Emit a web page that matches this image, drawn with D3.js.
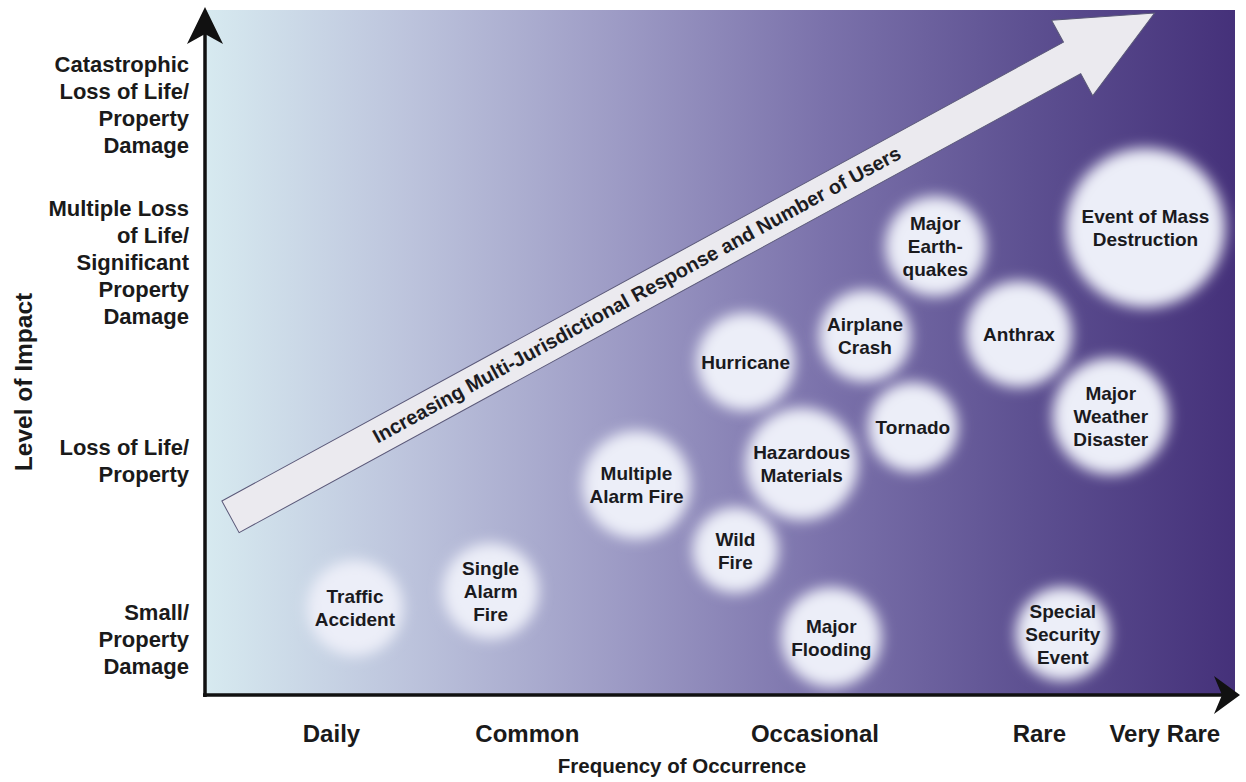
<!DOCTYPE html>
<html>
<head>
<meta charset="utf-8">
<script src="https://cdn.jsdelivr.net/npm/d3@7/dist/d3.min.js"></script>
<style>
	body { margin: 0; background: #fff; }
	svg { display: block; font-family: 'Liberation Sans', Arial, sans-serif; }
</style>
</head>
<body>
<div class="graphic__container"></div>
<script>
// frequency axis (x)
const frequencyLabels = ['Daily', 'Common', 'Occasional', 'Rare', 'Very Rare']
const frequencyValues = [12.4, 31.6, 59.8, 81.8, 94.1]

// impact axis (y)
const impactLabels = [
	['Catastrophic', 'Loss of Life/', 'Property', 'Damage'],
	['Multiple Loss', 'of Life/', 'Significant', 'Property', 'Damage'],
	['Loss of Life/', 'Property'],
	['Small/', 'Property', 'Damage']
]
const impactValues = [86.9, 63.7, 34.5, 8.2]

// events
const eventLabels = [
	['Traffic', 'Accident'],
	['Single', 'Alarm', 'Fire'],
	['Multiple', 'Alarm Fire'],
	['Wild', 'Fire'],
	['Hurricane'],
	['Hazardous', 'Materials'],
	['Airplane', 'Crash'],
	['Tornado'],
	['Major', 'Earth-', 'quakes'],
	['Anthrax'],
	['Major', 'Weather', 'Disaster'],
	['Event of Mass', 'Destruction'],
	['Major', 'Flooding'],
	['Special', 'Security', 'Event']
]
const eventFrequency = [14.7, 28.0, 42.3, 52.0, 53.0, 58.5, 64.7, 69.4, 71.6, 79.8, 88.8, 92.2, 61.4, 84.1]
const eventImpact = [12.8, 15.3, 30.9, 21.3, 49.0, 34.0, 52.8, 39.4, 66.0, 53.1, 41.0, 68.7, 8.5, 9.0]
const eventSize = [4.7, 4.7, 5.3, 4.2, 4.8, 5.5, 4.5, 4.4, 4.9, 5.2, 5.7, 7.8, 4.9, 4.6]

// trend arrow, in chart units
const trendFrom = [2.5, 26.2]
const trendTo = [93.1, 100.3]
const trendText = 'Increasing Multi-Jurisdictional Response and Number of Users'

const width = 1246
const height = 782
const margin = { top: 10, right: 11, bottom: 87, left: 205 }

const scaleX = d3.scaleLinear().domain([0, 100]).range([205, 1225])
const scaleY = d3.scaleLinear().domain([0, 100]).range([695, 15])
const scaleR = d3.scaleLinear().domain([0, 100]).range([0, 1020])

const gradientStops = [
	{ offset: 0, color: '#d7eaf0' },
	{ offset: 0.2, color: '#bcc3dc' },
	{ offset: 0.4, color: '#9d9bc5' },
	{ offset: 0.6, color: '#7b72ab' },
	{ offset: 0.8, color: '#5d5091' },
	{ offset: 1, color: '#45317a' }
]

const events = eventLabels.map((lines, i) => ({
	lines,
	x: eventFrequency[i],
	y: eventImpact[i],
	r: eventSize[i]
}))

function translate(x, y) {
	return `translate(${x}, ${y})`
}

const svg = d3.select('.graphic__container')
	.append('svg')
	.attr('width', width)
	.attr('height', height)

const defs = svg.append('defs')

defs.append('linearGradient')
	.attr('id', 'bg-grad')
	.attr('x1', 0).attr('x2', 1).attr('y1', 0).attr('y2', 0)
	.selectAll('stop')
	.data(gradientStops)
	.enter().append('stop')
		.attr('offset', d => d.offset)
		.attr('stop-color', d => d.color)

defs.append('filter')
	.attr('id', 'glow')
	.attr('x', '-50%').attr('y', '-50%')
	.attr('width', '200%').attr('height', '200%')
	.append('feGaussianBlur')
	.attr('stdDeviation', 7)

const plotW = width - margin.left - margin.right
const plotH = height - margin.top - margin.bottom

svg.append('rect')
	.attr('x', margin.left)
	.attr('y', margin.top)
	.attr('width', plotW)
	.attr('height', plotH)
	.attr('fill', 'url(#bg-grad)')

// trend arrow
const x0 = scaleX(trendFrom[0])
const y0 = scaleY(trendFrom[1])
const x1 = scaleX(trendTo[0])
const y1 = scaleY(trendTo[1])
const len = Math.hypot(x1 - x0, y1 - y0)
const angle = Math.atan2(y1 - y0, x1 - x0) * 180 / Math.PI

const BAND = 18
const HEAD_L = 94
const HEAD_W = 43

const arrowG = svg.append('g')
	.attr('class', 'trend')
	.attr('transform', `${translate(x0, y0)} rotate(${angle})`)

arrowG.append('path')
	.attr('d', d3.line()([
		[0, -BAND], [len - HEAD_L, -BAND], [len - HEAD_L, -HEAD_W], [len, 0],
		[len - HEAD_L, HEAD_W], [len - HEAD_L, BAND], [0, BAND]
	]) + 'Z')
	.attr('fill', '#ebeaef')
	.attr('stroke', '#5a5878')
	.attr('stroke-width', 1)

arrowG.append('text')
	.attr('x', 463)
	.attr('y', 1)
	.attr('text-anchor', 'middle')
	.attr('dominant-baseline', 'middle')
	.attr('font-size', 20)
	.attr('font-weight', 'bold')
	.attr('fill', '#1c1c22')
	.text(trendText)

// bubbles
const bubble = svg.append('g')
	.attr('class', 'events')
	.selectAll('g')
	.data(events)
	.enter().append('g')
		.attr('transform', d => translate(scaleX(d.x), scaleY(d.y)))

bubble.append('circle')
	.attr('r', d => scaleR(d.r))
	.attr('fill', '#eceef8')
	.attr('filter', 'url(#glow)')

const LINE_H = 23
bubble.append('text')
	.attr('text-anchor', 'middle')
	.attr('font-size', 19)
	.attr('font-weight', 'bold')
	.attr('fill', '#1a1a1e')
	.selectAll('tspan')
	.data(d => d.lines.map((t, i) => ({ t, i, n: d.lines.length })))
	.enter().append('tspan')
		.attr('x', 0)
		.attr('y', d => (d.i - (d.n - 1) / 2) * LINE_H + 7)
		.text(d => d.t)

// axes
const axisG = svg.append('g').attr('class', 'g-axis')

axisG.append('line')
	.attr('x1', scaleX(0)).attr('x2', scaleX(0))
	.attr('y1', scaleY(0) + 2).attr('y2', 34)
	.attr('stroke', '#111').attr('stroke-width', 3.5)

axisG.append('path')
	.attr('d', `M ${scaleX(0)} 7 L ${scaleX(0) + 18} 44 L ${scaleX(0)} 34 L ${scaleX(0) - 18} 44 Z`)
	.attr('fill', '#111')

axisG.append('line')
	.attr('x1', scaleX(0) - 2).attr('x2', 1222)
	.attr('y1', scaleY(0)).attr('y2', scaleY(0))
	.attr('stroke', '#111').attr('stroke-width', 3.5)

axisG.append('path')
	.attr('d', `M 1240 ${scaleY(0)} L 1214 ${scaleY(0) + 19} L 1222 ${scaleY(0)} L 1214 ${scaleY(0) - 19} Z`)
	.attr('fill', '#111')

// x tick labels
axisG.append('g')
	.attr('class', 'axis axis--x')
	.selectAll('text')
	.data(frequencyLabels)
	.enter().append('text')
		.attr('x', (d, i) => scaleX(frequencyValues[i]))
		.attr('y', 742)
		.attr('text-anchor', 'middle')
		.attr('font-size', 24)
		.attr('font-weight', 'bold')
		.attr('fill', '#1a1a1a')
		.text(d => d)

axisG.append('text')
	.attr('x', 682)
	.attr('y', 773)
	.attr('text-anchor', 'middle')
	.attr('font-size', 20.5)
	.attr('font-weight', 'bold')
	.attr('fill', '#1a1a1a')
	.text('Frequency of Occurrence')

// y tick labels
const IMPACT_LH = 27
axisG.append('g')
	.attr('class', 'axis axis--y')
	.selectAll('text')
	.data(impactLabels)
	.enter().append('text')
		.attr('text-anchor', 'end')
		.attr('font-size', 22)
		.attr('font-weight', 'bold')
		.attr('fill', '#1a1a1a')
		.attr('transform', (d, i) => translate(189, scaleY(impactValues[i])))
		.selectAll('tspan')
		.data(d => d.map((t, i) => ({ t, i, n: d.length })))
		.enter().append('tspan')
			.attr('x', 0)
			.attr('y', d => (d.i - (d.n - 1) / 2) * IMPACT_LH + 8)
			.text(d => d.t)

axisG.append('text')
	.attr('transform', `${translate(32, 382)} rotate(-90)`)
	.attr('text-anchor', 'middle')
	.attr('font-size', 24.5)
	.attr('font-weight', 'bold')
	.attr('fill', '#1a1a1a')
	.text('Level of Impact')
</script>
</body>
</html>
